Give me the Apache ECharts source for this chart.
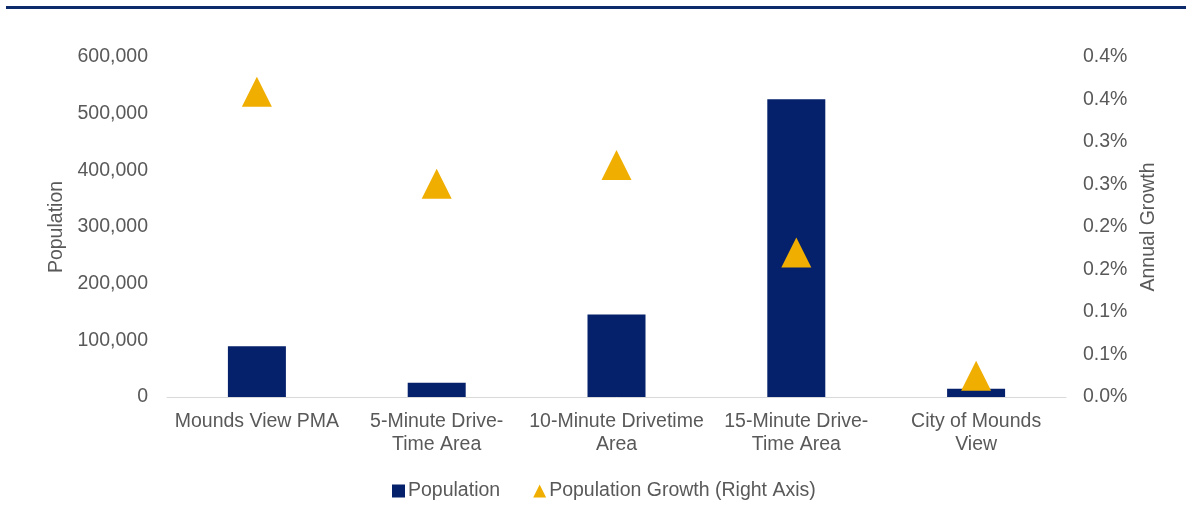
<!DOCTYPE html>
<html>
<head>
<meta charset="utf-8">
<script src="https://cdn.jsdelivr.net/npm/echarts@6/dist/echarts.min.js"></script>
<style>
  html, body { margin: 0; padding: 0; background: #ffffff; }
  #chart { width: 1186px; height: 531px; }
</style>
</head>
<body>
<div id="chart"></div>
<script>
// Trade areas shown along the x axis
const categories = [
  'Mounds View PMA',
  '5-Minute Drive-\nTime Area',
  '10-Minute Drivetime\nArea',
  '15-Minute Drive-\nTime Area',
  'City of Mounds\nView'
];
// Total population per area
const population = [89500, 25000, 145400, 525500, 14400];
// Annual population growth, in percent
const growthPct = [0.359, 0.251, 0.273, 0.170, 0.025];

// Left axis ticks (population)
const popMin = 0, popMax = 600000, popStep = 100000;
// Right axis ticks (percent)
const pctMin = 0, pctMax = 0.4, pctStep = 0.05;

const FONT = '"Liberation Sans", Arial, sans-serif';
const FS = 19.5;
const GREY = '#595959';
const NAVY = '#06216b';
const AMBER = '#f0ae00';

const chart = echarts.init(document.getElementById('chart'));

chart.setOption({
  animation: false,
  backgroundColor: '#ffffff',
  textStyle: { fontFamily: FONT, color: GREY },
  graphic: [{
    type: 'rect',
    shape: { x: 6, y: 6, width: 1180, height: 3 },
    style: { fill: '#0d2a6b' },
    silent: true
  }],
  grid: { left: 167, right: 120, top: 57, bottom: 134 },
  legend: {
    left: 392,
    top: 481,
    padding: 0,
    itemWidth: 13,
    itemHeight: 13,
    itemGap: 33,
    textStyle: { fontFamily: FONT, fontSize: FS, color: GREY, padding: [0, 0, 0, -2] },
    data: [
      { name: 'Population', icon: 'rect' },
      { name: 'Population Growth (Right Axis)', icon: 'triangle', itemStyle: { color: AMBER, opacity: 1 } }
    ]
  },
  xAxis: {
    type: 'category',
    data: categories,
    axisLine: { lineStyle: { color: '#d9d9d9', width: 1 } },
    axisTick: { show: false },
    axisLabel: {
      interval: 0,
      margin: 13,
      fontFamily: FONT,
      fontSize: FS,
      lineHeight: 23,
      color: GREY,
      align: 'center'
    }
  },
  yAxis: [{
    type: 'value',
    min: popMin,
    max: popMax,
    interval: popStep,
    name: 'Population',
    nameLocation: 'middle',
    nameRotate: 90,
    nameGap: 94,
    nameTextStyle: { fontFamily: FONT, fontSize: FS, color: GREY },
    axisLine: { show: false },
    axisTick: { show: false },
    splitLine: { show: false },
    axisLabel: {
      margin: 19,
      fontFamily: FONT,
      fontSize: FS,
      color: GREY,
      formatter: v => v.toLocaleString('en-US')
    }
  }, {
    type: 'value',
    position: 'right',
    min: pctMin,
    max: pctMax,
    interval: pctStep,
    name: 'Annual Growth',
    nameLocation: 'middle',
    nameRotate: 90,
    nameGap: 72,
    nameTextStyle: { fontFamily: FONT, fontSize: FS, color: GREY },
    axisLine: { show: false },
    axisTick: { show: false },
    splitLine: { show: false },
    axisLabel: {
      margin: 17,
      fontFamily: FONT,
      fontSize: FS,
      color: GREY,
      formatter: v => (Math.round(Math.round(v * 1000) / 100) / 10).toFixed(1) + '%'
    }
  }],
  series: [{
    name: 'Population',
    type: 'bar',
    yAxisIndex: 0,
    data: population,
    barWidth: 58,
    itemStyle: { color: NAVY }
  }, {
    name: 'Population Growth (Right Axis)',
    type: 'scatter',
    yAxisIndex: 1,
    data: growthPct,
    symbol: 'triangle',
    symbolSize: [30, 30],
    itemStyle: { color: AMBER, opacity: 1 },
    z: 5
  }]
});
</script>
</body>
</html>
